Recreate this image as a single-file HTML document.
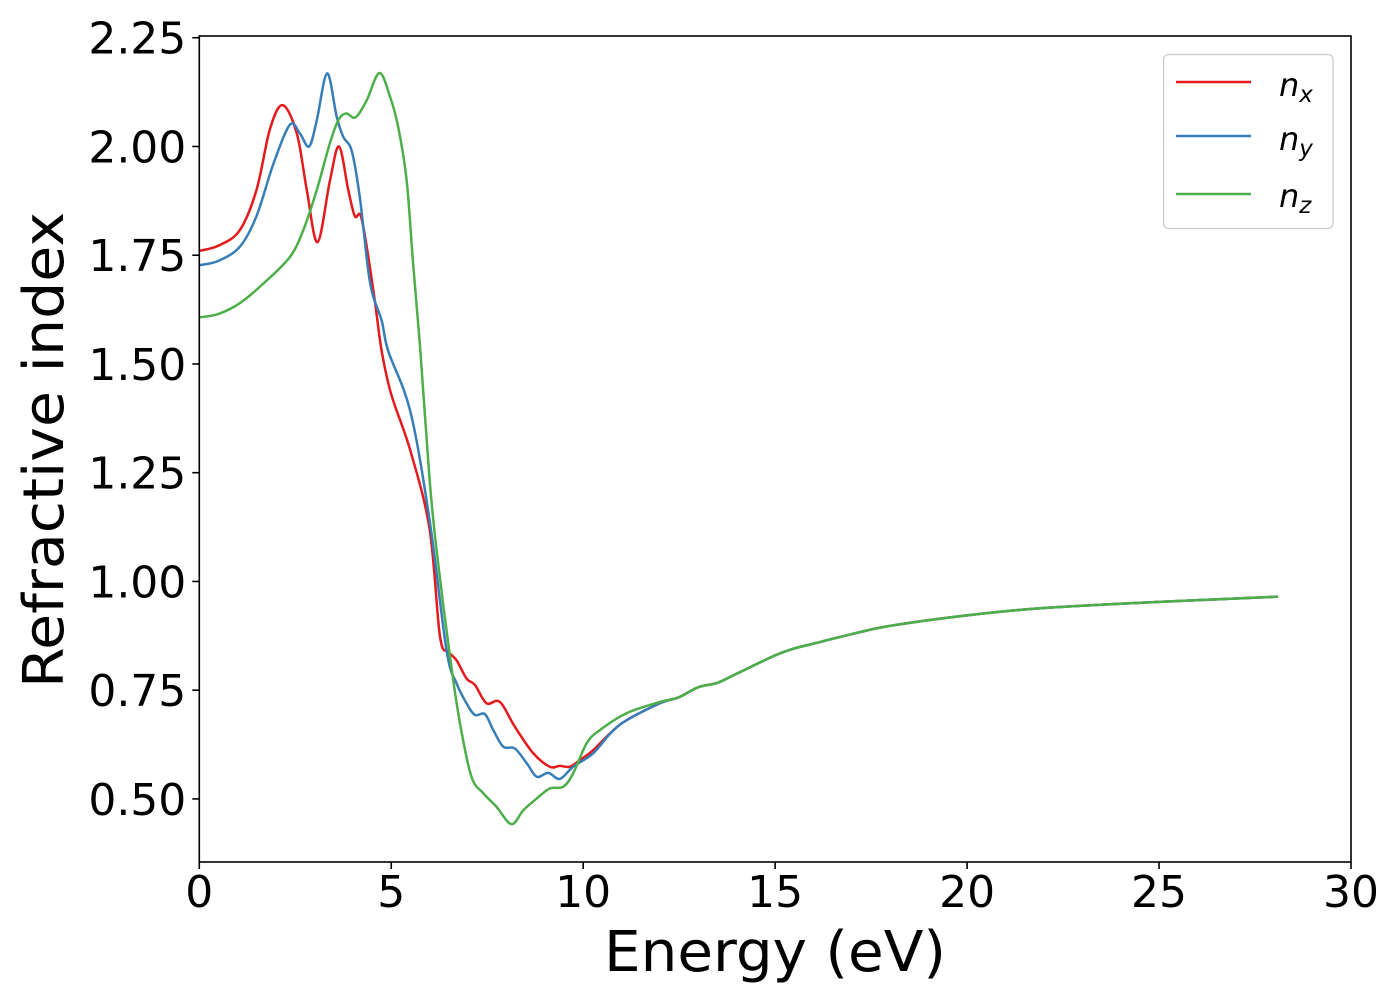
<!DOCTYPE html>
<html><head><meta charset="utf-8"><style>
html,body{margin:0;padding:0;background:#fff;}
svg text{font-family:"DejaVu Sans","Liberation Sans",sans-serif;fill:#000;}
</style></head><body>
<svg id="chart" width="1400" height="1000" xmlns="http://www.w3.org/2000/svg">
<rect x="0" y="0" width="1400" height="1000" fill="#fff"/>
<g id="plot"></g>
<g id="xticks"></g>
<g id="yticks"></g>
<rect x="199.3" y="36" width="1151.7" height="826" fill="none" stroke="#000" stroke-width="1.6"/>
<text x="775" y="971" font-size="56" text-anchor="middle" textLength="342" lengthAdjust="spacingAndGlyphs">Energy (eV)</text>
<text transform="translate(63,450) rotate(-90)" font-size="56" text-anchor="middle" textLength="476" lengthAdjust="spacingAndGlyphs">Refractive index</text>
<g>
<rect x="1163.5" y="54.5" width="169.5" height="174" rx="5" fill="#fff" stroke="#ccc" stroke-width="1.3"/>
<line x1="1176" y1="82" x2="1251" y2="82" stroke="#e41a1c" stroke-width="2.5"/>
<line x1="1176" y1="136" x2="1251" y2="136" stroke="#377eb8" stroke-width="2.5"/>
<line x1="1176" y1="194" x2="1251" y2="194" stroke="#4daf4a" stroke-width="2.5"/>
<text x="1279" y="96" font-size="32" font-style="italic">n<tspan font-size="23" dy="6">x</tspan></text>
<text x="1279" y="150" font-size="32" font-style="italic">n<tspan font-size="23" dy="6">y</tspan></text>
<text x="1279" y="207" font-size="32" font-style="italic">n<tspan font-size="23" dy="6">z</tspan></text>
</g>
</svg>
<script>
const xTicks=[0,5,10,15,20,25,30];
const yTicks=[0.50,0.75,1.00,1.25,1.50,1.75,2.00,2.25];
const tail=[[12.5,0.734],[13,0.757],[13.5,0.767],[14,0.788],[15,0.830],[15.5,0.846],[16,0.857],[17,0.879],[18,0.898],[20,0.922],[22,0.939],[25,0.953],[28.1,0.965]];
const nxE=[0,0.5,1.05,1.49,1.84,2.17,2.54,2.80,3.08,3.40,3.64,3.88,4.05,4.20,4.36,4.58,4.75,5.0,5.5,6.0,6.27,6.49,6.70,6.96,7.18,7.48,7.83,8.22,8.70,9.13,9.39,9.65,9.91,10.26,10.7,11.13,12.0];
const nxV=[1.76,1.772,1.807,1.90,2.04,2.095,2.03,1.90,1.78,1.92,2.0,1.90,1.84,1.842,1.77,1.64,1.53,1.43,1.30,1.12,0.873,0.838,0.819,0.777,0.762,0.72,0.723,0.666,0.605,0.574,0.576,0.574,0.589,0.612,0.651,0.681,0.72];
const nyE=[0,0.5,1.06,1.49,1.93,2.36,2.62,2.86,3.06,3.33,3.58,3.75,3.97,4.18,4.45,4.75,4.92,5.5,6.0,6.44,6.70,6.96,7.18,7.44,7.66,7.92,8.22,8.53,8.79,9.09,9.39,9.74,10.26,10.7,11.13,12.0];
const nyV=[1.727,1.737,1.77,1.84,1.96,2.05,2.03,2.00,2.06,2.168,2.068,2.022,1.99,1.884,1.686,1.60,1.53,1.39,1.14,0.842,0.766,0.72,0.693,0.695,0.658,0.62,0.616,0.582,0.551,0.56,0.546,0.574,0.605,0.65,0.681,0.72];
const nzE=[0,0.5,1.06,1.67,2.36,2.71,3.06,3.40,3.62,3.82,4.07,4.36,4.69,4.97,5.18,5.40,5.57,5.75,6.0,6.18,6.53,6.79,7.09,7.40,7.74,8.13,8.44,8.79,9.13,9.48,9.74,10.09,10.43,11.13,12.0];
const nzV=[1.607,1.615,1.64,1.685,1.746,1.808,1.90,2.007,2.06,2.076,2.067,2.106,2.169,2.114,2.045,1.923,1.73,1.54,1.233,1.072,0.827,0.674,0.551,0.513,0.482,0.442,0.474,0.501,0.524,0.528,0.559,0.628,0.658,0.697,0.723];
const X0=199.3,X1=1351,Y0=862,Y1=36,xmin=0,xmax=30,ymin=0.355,ymax=2.254;
const sx=v=>X0+(v-xmin)/(xmax-xmin)*(X1-X0);
const sy=v=>Y0-(v-ymin)/(ymax-ymin)*(Y0-Y1);
const NS="http://www.w3.org/2000/svg";
function mk(t,a){const e=document.createElementNS(NS,t);for(const k in a)e.setAttribute(k,a[k]);return e;}
const xg=document.getElementById('xticks'),yg=document.getElementById('yticks'),pg=document.getElementById('plot');
xTicks.forEach(v=>{
 const l=mk('line',{x1:sx(v),x2:sx(v),y1:Y0,y2:Y0+7,stroke:'#000','stroke-width':1.6});
 
 
 xg.appendChild(l);
 const t=mk('text',{x:sx(v),y:Y0+45,'font-size':44,'text-anchor':'middle'});
 
 
 t.textContent=String(v);xg.appendChild(t);
});
yTicks.forEach(v=>{
 const l=mk('line',{x1:X0-7,x2:X0,y1:sy(v),y2:sy(v),stroke:'#000','stroke-width':1.6});
 
 
 yg.appendChild(l);
 const t=mk('text',{x:X0-13,y:sy(v)+16,'font-size':44,'text-anchor':'end'});
 
 
 t.textContent=v.toFixed(2);yg.appendChild(t);
});
function path(E,V){
 const p=E.map((e,i)=>[sx(e),sy(V[i])]).concat(tail.map(d=>[sx(d[0]),sy(d[1])]));
 let d='M'+p[0][0]+','+p[0][1];
 for(let i=0;i<p.length-1;i++){
  const a=p[Math.max(i-1,0)],b=p[i],c=p[i+1],n=p[Math.min(i+2,p.length-1)];
  d+=' C'+(b[0]+(c[0]-a[0])/6)+','+(b[1]+(c[1]-a[1])/6)+' '+(c[0]-(n[0]-b[0])/6)+','+(c[1]-(n[1]-b[1])/6)+' '+c[0]+','+c[1];
 }
 return d;
}
[[nxE,nxV,'#e41a1c','series-nx'],[nyE,nyV,'#377eb8','series-ny'],[nzE,nzV,'#4daf4a','series-nz']].forEach(s=>{
 const e=mk('path',{d:path(s[0],s[1]),fill:'none',stroke:s[2],'stroke-width':2.5,'stroke-linejoin':'round'});
 
 
 pg.appendChild(e);
});
</script>
</body></html>
